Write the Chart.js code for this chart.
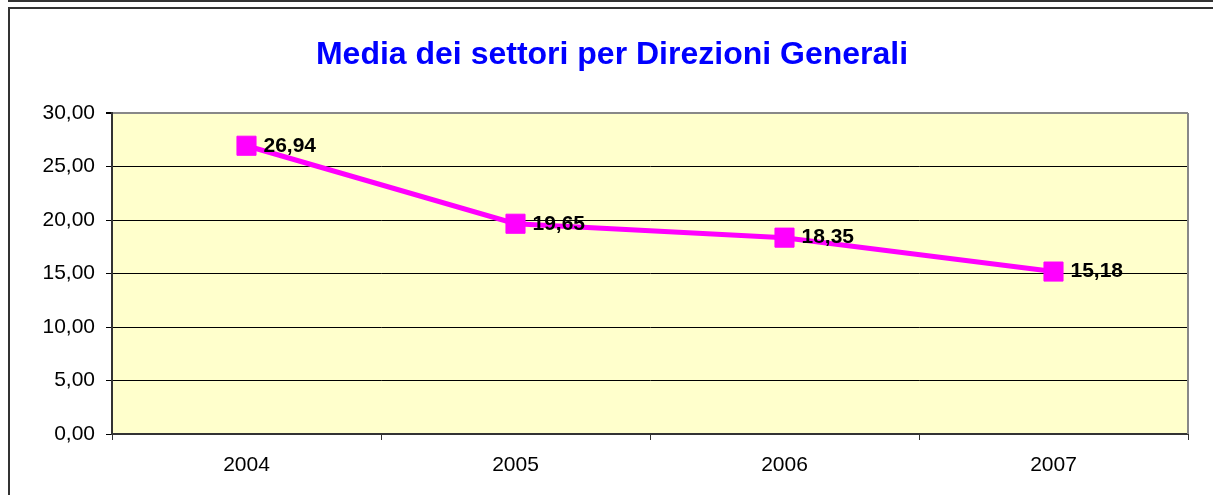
<!DOCTYPE html>
<html lang="it">

<head>
    <meta charset="UTF-8">
    <title>Media dei settori per Direzioni Generali</title>
    <script src="https://cdn.jsdelivr.net/npm/chart.js@4.4.1/dist/chart.umd.min.js"></script>
    <style>
        html, body { margin: 0; padding: 0; background: #fff; overflow: hidden; }
        #wrap { position: relative; width: 1213px; height: 495px; overflow: hidden; }
        .box { position: absolute; box-sizing: border-box; border: 2px solid #333; width: 2000px; }
        #boxTop { left: 8px; top: -10px; height: 12px; }
        #boxMain { left: 8px; top: 7px; height: 1000px; }
        #chart { position: absolute; left: 0; top: 0; }
    </style>
</head>

<body>
    <div id="wrap">
        <div class="box" id="boxTop"></div>
        <div class="box" id="boxMain"></div>
        <canvas id="chart" width="1213" height="495"></canvas>
    </div>

    <script>
        // dati del grafico
        const anni = ['2004', '2005', '2006', '2007'];
        const mediaSettori = [26.94, 19.65, 18.35, 15.18];
        const yTicks = [0, 5, 10, 15, 20, 25, 30];

        const fmt = v => v.toFixed(2).replace('.', ',');

        // sfondo giallo e bordo destro dell'area del grafico
        const plotArea = {
            id: 'plotArea',
            beforeDraw(chart) {
                const { ctx, chartArea: a } = chart;
                ctx.save();
                ctx.fillStyle = '#FFFFCC';
                ctx.fillRect(a.left, a.top, a.right - a.left, a.bottom - a.top);
                ctx.restore();
            },
            afterDraw(chart) {
                const { ctx, chartArea: a } = chart;
                ctx.save();
                ctx.strokeStyle = '#888888';
                ctx.lineWidth = 2;
                ctx.beginPath();
                ctx.moveTo(a.right, a.top);
                ctx.lineTo(a.right, a.bottom);
                ctx.stroke();
                ctx.restore();
            }
        };

        // etichette dei valori accanto ai punti
        const valueLabels = {
            id: 'valueLabels',
            afterDatasetsDraw(chart) {
                const { ctx } = chart;
                const meta = chart.getDatasetMeta(0);
                ctx.save();
                ctx.font = 'bold 21px "Liberation Sans", Arial, sans-serif';
                ctx.fillStyle = '#000';
                ctx.textAlign = 'left';
                ctx.textBaseline = 'middle';
                meta.data.forEach((pt, i) => {
                    ctx.fillText(fmt(mediaSettori[i]), pt.x + 17, pt.y);
                });
                ctx.restore();
            }
        };

        const font = { family: '"Liberation Sans", Arial, sans-serif', size: 21 };

        new Chart(document.getElementById('chart'), {
            type: 'line',
            data: {
                labels: anni,
                datasets: [{
                    data: mediaSettori,
                    borderColor: '#FF00FF',
                    backgroundColor: '#FF00FF',
                    borderWidth: 5,
                    pointStyle: 'rect',
                    pointRadius: 13.5,
                    pointBorderWidth: 1,
                    pointBorderColor: '#FF00FF',
                    pointBackgroundColor: '#FF00FF',
                    tension: 0,
                    fill: false
                }]
            },
            options: {
                responsive: false,
                animation: false,
                layout: { padding: { left: 36, right: 25, top: 0, bottom: 0 } },
                plugins: {
                    legend: { display: false },
                    tooltip: { enabled: false },
                    title: {
                        display: true,
                        text: 'Media dei settori per Direzioni Generali',
                        color: '#0000FF',
                        font: { family: '"Liberation Sans", Arial, sans-serif', size: 32, weight: 'bold', lineHeight: 1.2 },
                        padding: { top: 36.4, bottom: 38.2 }
                    }
                },
                scales: {
                    x: {
                        offset: true,
                        grid: {
                            offset: true,
                            drawOnChartArea: false,
                            drawTicks: true,
                            tickLength: 6,
                            tickColor: '#333'
                        },
                        border: { color: '#333', width: 2 },
                        ticks: { color: '#000', font: font, padding: 13, maxRotation: 0 },
                        afterFit(scale) { scale.height = 61; }
                    },
                    y: {
                        min: 0,
                        max: 30,
                        afterBuildTicks(scale) { scale.ticks = yTicks.map(v => ({ value: v })); },
                        grid: {
                            color: ctx => ctx.tick && ctx.tick.value === 30 ? '#888888' : '#000000',
                            lineWidth: ctx => ctx.tick && ctx.tick.value === 30 ? 2 : 1,
                            tickColor: '#000',
                            tickLength: 6
                        },
                        border: { color: '#333', width: 2 },
                        ticks: {
                            color: '#000',
                            font: font,
                            padding: 11,
                            callback: v => fmt(v)
                        },
                        afterFit(scale) { scale.width = 76; }
                    }
                }
            },
            plugins: [plotArea, valueLabels]
        });
    </script>
</body>

</html>
